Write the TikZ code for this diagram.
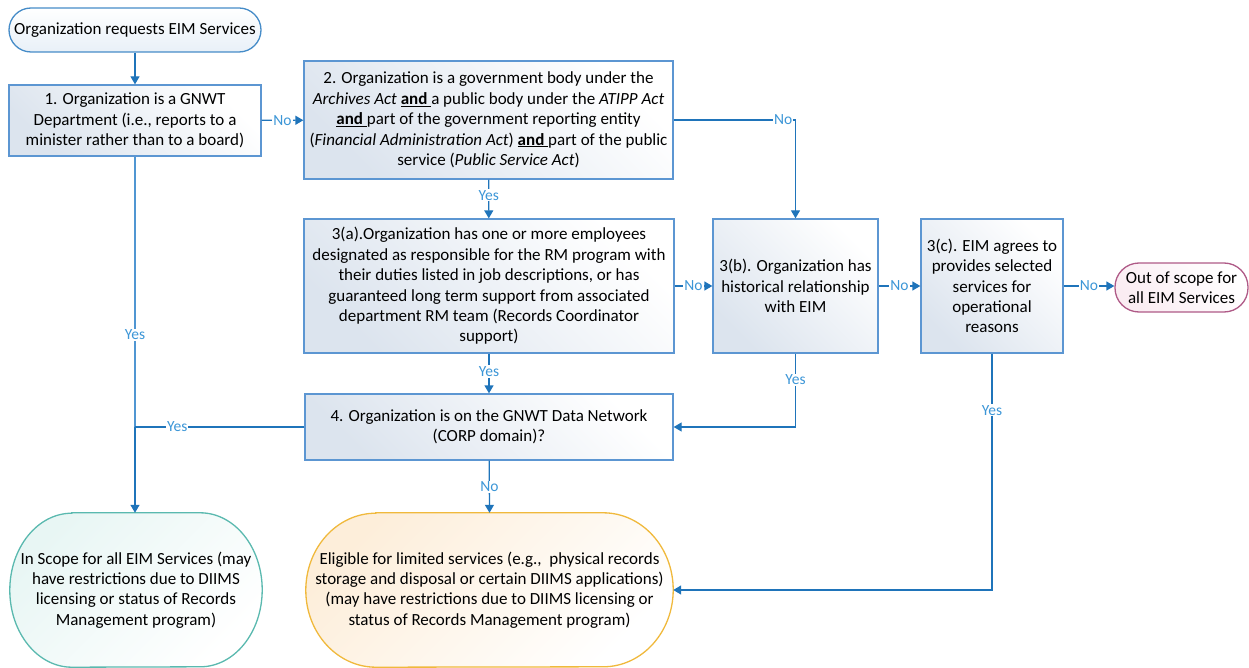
\documentclass[tikz,border=0pt]{standalone}
\usepackage{fontspec}
\setmainfont{Carlito}
\usetikzlibrary{arrows.meta,calc,backgrounds}
\definecolor{linec}{RGB}{31,116,186}
\definecolor{linelt}{RGB}{80,150,210}
\definecolor{boxc}{RGB}{92,150,210}
\definecolor{boxfill}{RGB}{220,228,238}
\definecolor{labc}{RGB}{60,150,215}
\definecolor{startc}{RGB}{70,140,200}
\definecolor{tealc}{RGB}{90,185,175}
\definecolor{tealfill}{RGB}{232,246,244}
\definecolor{goldc}{RGB}{240,185,60}
\definecolor{goldfill}{RGB}{253,238,218}
\definecolor{pinkc}{RGB}{175,90,135}
\definecolor{pinkfill}{RGB}{250,236,242}
\begin{document}
\begin{tikzpicture}[x=1pt,y=-1pt,
  txt/.style={font=\fontsize{17}{20.4}\selectfont, align=center, inner sep=0pt},
  stepbox/.style={txt, draw=boxc, line width=1.3pt, top color=white, bottom color=boxfill, shading angle=-45},
  conn/.style={draw=linec, line width=1.3pt},
  arr/.style={conn, -{Triangle[width=9pt,length=8pt]}},
  lab/.style={fill=white, text=labc, inner sep=1pt, font=\fontsize{15.5}{17}\selectfont}
]
\useasboundingbox (0,0) rectangle (1249,668);

% nodes
\node[txt, draw=startc, line width=1.3pt, rounded corners=22, top color=white, bottom color={rgb,255:red,232;green,240;blue,248},
  minimum width=252pt, minimum height=44pt] (start) at (135,30) {Organization requests EIM Services};
\node[stepbox, minimum width=252pt, minimum height=71pt] (b1) at (135,120.5)
  {1. Organization is a GNWT\\Department (i.e., reports to a\\minister rather than to a board)};
\node[stepbox, minimum width=369pt, minimum height=118pt] (b2) at (488.5,120)
  {2. Organization is a government body under the\\
   \textit{Archives Act} \underline{\textbf{and}~}a public body under the \textit{ATIPP Act}\\
   \underline{\textbf{and}~}part of the government reporting entity\\
   (\textit{Financial Administration Act}) \underline{\textbf{and}~}part of the public\\
   service (\textit{Public Service Act})};
\node[stepbox, minimum width=370pt, minimum height=134pt] (b3a) at (489,286)
  {3(a).Organization has one or more employees\\designated as responsible for the RM program with\\their duties listed in job descriptions, or has\\guaranteed long term support from associated\\department RM team (Records Coordinator\\support)};
\node[stepbox, minimum width=165pt, minimum height=134pt] (b3b) at (795.5,286)
  {3(b). Organization has\\historical relationship\\with EIM};
\node[stepbox, minimum width=142pt, minimum height=134pt] (b3c) at (992,286)
  {3(c). EIM agrees to\\provides selected\\services for\\operational\\reasons};
\node[txt, draw=pinkc, line width=1.3pt, rounded corners=24, top color=white, bottom color=pinkfill, shading angle=-45,
  minimum width=133pt, minimum height=49pt] (out) at (1181.5,287.5) {Out of scope for\\all EIM Services};
\node[stepbox, minimum width=368pt, minimum height=66pt] (b4) at (489,427)
  {4. Organization is on the GNWT Data Network\\(CORP domain)?};

% terminal pills
\node[txt, minimum width=252pt, minimum height=154pt] (ins) at (136,590)
  {In Scope for all EIM Services (may\\have restrictions due to DIIMS\\licensing or status of Records\\Management program)};
\node[txt, minimum width=367pt, minimum height=154pt] (elig) at (489.5,590)
  {Eligible for limited services (e.g.,\ \ physical records\\storage and disposal or certain DIIMS applications)\\(may have restrictions due to DIIMS licensing or\\status of Records Management program)};
\begin{scope}[on background layer]
\path[draw=tealc, line width=1.3pt, top color=tealfill, bottom color=white, shading angle=45]
  ($(ins.north west)+(62,0)$) -- ($(ins.north east)+(-62,0)$)
  arc[start angle=-90, end angle=90, x radius=62, y radius=77]
  -- ($(ins.south west)+(62,0)$)
  arc[start angle=90, end angle=270, x radius=62, y radius=77] -- cycle;
\path[draw=goldc, line width=1.3pt, top color=goldfill, bottom color=white, shading angle=45]
  ($(elig.north west)+(70,0)$) -- ($(elig.north east)+(-70,0)$)
  arc[start angle=-90, end angle=90, x radius=70, y radius=77]
  -- ($(elig.south west)+(70,0)$)
  arc[start angle=90, end angle=270, x radius=70, y radius=77] -- cycle;
\end{scope}

% connectors
\coordinate (j) at (b4.west -| b1.south);
\draw[arr] (start) -- (b1);
\draw[arr] (b1) -- node[lab] {No} (b2);
\draw[arr] (b2) -- node[lab, pos=0.4] {Yes} (b3a);
\draw[arr] (b2.east) -| node[lab, pos=0.45] {No} (b3b.north);
\draw[arr] (b3a.east) -- node[lab] {No} (b3a.east -| b3b.west);
\draw[arr] (b3b) -- node[lab] {No} (b3c);
\draw[arr] (b3c.east) -- node[lab] {No} (b3c.east -| out.west);
\draw[arr] (b3a) -- node[lab, pos=0.45] {Yes} (b4);
\draw[arr] (b3b.south) |- node[lab, pos=0.18] {Yes} (b4.east);
\draw[draw=linelt, line width=1.3pt] (b1.south) -- node[lab, pos=0.66] {Yes} (j);
\draw[arr] (j) -- (j |- ins.north);
\draw[conn] (b4.west) -- node[lab, pos=0.75] {Yes} (j);
\draw[arr] (b4) -- node[lab, pos=0.5] {No} (elig.north);
\draw[arr] (b3c.south) |- node[lab, pos=0.12] {Yes} (elig.east);
\end{tikzpicture}
\end{document}
